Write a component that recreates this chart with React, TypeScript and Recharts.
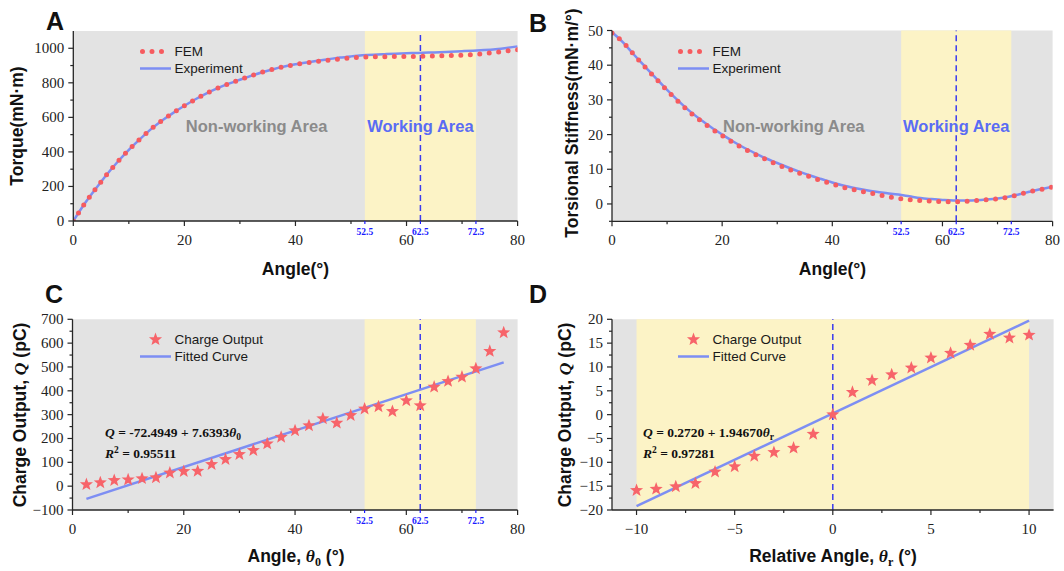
import React from 'react'
import {
  ComposedChart,
  Line,
  Scatter,
  XAxis,
  YAxis,
  ReferenceArea,
  ReferenceLine,
  Legend,
} from 'recharts'

const SERIF = '"Liberation Serif", "Times New Roman", serif'
const SANS = '"Liberation Sans", Arial, sans-serif'

const AX = '#262626'
const GRAY_BG = '#e3e3e3'
const YELLOW_BG = '#fcf3c6'
const RED = '#f65b5f'
const STAR_RED = '#f7646a'
const LINE_BLUE = '#7d8ef3'
const DASH_BLUE = '#3b3bef'
const TICK_BLUE = '#1a1aff'
const AREA_BLUE = '#5a6cf4'
const AREA_GRAY = '#8b8b8b'

// ---- data ----
const anglesAB = [
  0, 2, 4, 6, 8, 10, 12, 14, 16, 18, 20, 22, 24, 26, 28, 30, 32, 34, 36, 38, 40,
  42, 44, 46, 48, 50, 52, 54, 56, 58, 60, 62, 64, 66, 68, 70, 72, 74, 76, 78, 80,
]
const torqueFem = [
  0, 98, 185, 268, 343, 412, 474, 532, 582, 626, 667, 705, 739, 769, 795, 818,
  840, 861, 879, 894, 906, 916, 924, 931, 938, 944, 948, 950, 951, 952, 952, 953,
  955, 957, 958, 960, 964, 970, 977, 984, 991,
]
const torqueExp = [
  0, 98, 185, 268, 343, 412, 474, 532, 582, 626, 667, 705, 739, 769, 795, 818,
  840, 861, 879, 894, 907, 918, 928, 937, 946, 953, 959, 963, 966, 969, 971, 973,
  975, 977, 980, 983, 986, 990, 995, 1002, 1011,
]
const stiffFem = [
  49.3, 46.6, 43.0, 39.5, 36.1, 32.7, 29.6, 26.6, 24.1, 21.8, 19.7, 17.7, 15.9,
  14.3, 12.8, 11.4, 10.1, 8.9, 7.8, 6.7, 5.8, 4.8, 4.1, 3.4, 2.8, 2.1, 1.6, 1.2,
  1.0, 0.8, 0.7, 0.6, 0.75, 0.95, 1.2, 1.5, 2.0, 2.8, 3.6, 4.2, 4.9,
]
const stiffExp = [
  49.5, 46.6, 43.0, 39.6, 36.2, 32.9, 29.8, 26.9, 24.4, 22.1, 20.0, 18.0, 16.2,
  14.6, 13.1, 11.8, 10.5, 9.3, 8.2, 7.2, 6.2, 5.3, 4.6, 4.0, 3.5, 3.1, 2.7, 2.2,
  1.7, 1.4, 1.15, 1.0, 1.0, 1.1, 1.3, 1.6, 2.1, 2.8, 3.6, 4.3, 5.0,
]

const anglesC = [
  2.5, 5, 7.5, 10, 12.5, 15, 17.5, 20, 22.5, 25, 27.5, 30, 32.5, 35, 37.5, 40,
  42.5, 45, 47.5, 50, 52.5, 55, 57.5, 60, 62.5, 65, 67.5, 70, 72.5, 75, 77.5,
]
const chargeC = [
  7, 15, 24, 27, 32, 36, 56, 62, 63, 91, 112, 133, 150, 178, 206, 233, 254, 283,
  265, 297, 324, 334, 314, 359, 338, 416, 440, 458, 493, 566, 644,
]
const fitCx = [2.5, 77.5]
const fitCy = [-53.5, 519.5]

const anglesD = [-10, -9, -8, -7, -6, -5, -4, -3, -2, -1, 0, 1, 2, 3, 4, 5, 6, 7, 8, 9, 10]
const chargeD = [
  -15.9, -15.6, -15.1, -14.4, -12.0, -10.9, -8.7, -7.9, -7.0, -4.1, 0, 4.7, 7.2,
  8.4, 9.8, 11.9, 12.9, 14.6, 16.9, 16.1, 16.7,
]
const fitDx = [-10, 10]
const fitDy = [-19.2, 19.7]

const ticks0to80 = [0, 10, 20, 30, 40, 50, 60, 70, 80]
const workTicks = [52.5, 62.5, 72.5]
const ticksTorque = [0, 100, 200, 300, 400, 500, 600, 700, 800, 900, 1000]
const ticksStiff = [-5, 0, 5, 10, 15, 20, 25, 30, 35, 40, 45, 50]
const ticksChargeC = [-100, -50, 0, 50, 100, 150, 200, 250, 300, 350, 400, 450, 500, 550, 600, 650, 700]
const ticksRelAngle = [-10, -7.5, -5, -2.5, 0, 2.5, 5, 7.5, 10]
const ticksChargeD = [-20, -17.5, -15, -12.5, -10, -7.5, -5, -2.5, 0, 2.5, 5, 7.5, 10, 12.5, 15, 17.5, 20]

const pts = (xs: number[], ys: number[]) => xs.map((x, i) => ({ x, y: ys[i] }))

// ---- tick renderers ----
const isMajor = (v: number, step: number) => Math.abs(v / step - Math.round(v / step)) < 1e-6
const fmt = (v: number) => (v < 0 ? '\u2212' + Math.abs(v) : String(v))
const tickFont = { fontFamily: SERIF, fontSize: 15 }

const bottomTick = (major: number, blue: number[]) => (p: any) => {
  const v = p.payload.value
  const { x, y } = p
  if (blue.includes(v)) {
    return (
      <g>
        <line x1={x} x2={x} y1={y} y2={y + 3} stroke={TICK_BLUE} strokeWidth={1.2} />
        <text x={x} y={y + 14} textAnchor="middle" fill={TICK_BLUE}
          style={{ fontFamily: SERIF, fontSize: 9.5, fontWeight: 'bold' }}>
          {v}
        </text>
      </g>
    )
  }
  const m = isMajor(v, major)
  return (
    <g>
      <line x1={x} x2={x} y1={y} y2={y + (m ? 5 : 3)} stroke={AX} strokeWidth={1.2} />
      {m && (
        <text x={x} y={y + 24} textAnchor="middle" fill="#222" style={tickFont}>
          {fmt(v)}
        </text>
      )}
    </g>
  )
}

const topTick = (major: number) => (p: any) => {
  const m = isMajor(p.payload.value, major)
  return <line x1={p.x} x2={p.x} y1={p.y} y2={p.y + (m ? 5 : 3)} stroke={AX} strokeWidth={1.2} />
}

const leftTick = (major: number) => (p: any) => {
  const v = p.payload.value
  const { x, y } = p
  const m = isMajor(v, major)
  return (
    <g>
      <line x1={x - (m ? 5 : 3)} x2={x} y1={y} y2={y} stroke={AX} strokeWidth={1.2} />
      {m && (
        <text x={x - 9} y={y + 5} textAnchor="end" fill="#222" style={tickFont}>
          {fmt(v)}
        </text>
      )}
    </g>
  )
}

const rightTick = (major: number) => (p: any) => {
  const m = isMajor(p.payload.value, major)
  return <line x1={p.x - (m ? 5 : 3)} x2={p.x} y1={p.y} y2={p.y} stroke={AX} strokeWidth={1.2} />
}

type Frame = {
  xDomain: [number, number]
  yDomain: [number, number]
  xTicks: number[]
  xMajor: number
  blue: number[]
  yTicks: number[]
  yMajor: number
  yWidth: number
  xHeight: number
}

const axisLine = { stroke: AX, strokeWidth: 1.3 }

function frameAxes(c: Frame) {
  const bottom = [...c.xTicks, ...c.blue].sort((a, b) => a - b)
  return [
    <XAxis key="xb" xAxisId={0} type="number" dataKey="x" domain={c.xDomain} ticks={bottom} interval={0}
      allowDataOverflow height={c.xHeight} tickSize={0} tickMargin={0} tickLine={false} axisLine={axisLine}
      tick={bottomTick(c.xMajor, c.blue)} />,
    <XAxis key="xt" xAxisId="top" orientation="top" type="number" dataKey="x" domain={c.xDomain} ticks={c.xTicks}
      interval={0} allowDataOverflow height={0} tickSize={0} tickMargin={0} tickLine={false} axisLine={axisLine}
      tick={topTick(c.xMajor)} />,
    <YAxis key="yl" yAxisId={0} type="number" domain={c.yDomain} ticks={c.yTicks} interval={0} allowDataOverflow
      width={c.yWidth} tickSize={0} tickMargin={0} tickLine={false} axisLine={axisLine} tick={leftTick(c.yMajor)} />,
    <YAxis key="yr" yAxisId="right" orientation="right" type="number" domain={c.yDomain} ticks={c.yTicks}
      interval={0} allowDataOverflow width={0} tickSize={0} tickMargin={0} tickLine={false} axisLine={axisLine}
      tick={rightTick(c.yMajor)} />,
  ]
}

// ---- legend ----
const Star = (p: any) => {
  const { cx, cy } = p
  const r1 = 6.9
  const r2 = 2.9
  const list: string[] = []
  for (let i = 0; i < 10; i++) {
    const r = i % 2 === 0 ? r1 : r2
    const a = -Math.PI / 2 + (i * Math.PI) / 5
    list.push(`${cx + r * Math.cos(a)},${cy + r * Math.sin(a)}`)
  }
  return <polygon points={list.join(' ')} fill={STAR_RED} />
}

type Item = { label: string; kind: 'dots' | 'line' | 'star' }

const legendBox = (items: Item[]) => () => (
  <div style={{ fontFamily: SANS, fontSize: 13.5, color: '#1a1a1a' }}>
    {items.map((it) => (
      <div key={it.label} style={{ display: 'flex', alignItems: 'center', height: 17 }}>
        <svg width={31} height={17} style={{ marginRight: 4, overflow: 'visible' }}>
          {it.kind === 'dots' && (
            <line x1={2.5} x2={31} y1={8.5} y2={8.5} stroke={RED} strokeWidth={5} strokeDasharray="0 9.5" strokeLinecap="round" />
          )}
          {it.kind === 'line' && <line x1={0} x2={31} y1={8.5} y2={8.5} stroke={LINE_BLUE} strokeWidth={2.5} />}
          {it.kind === 'star' && <Star cx={15.5} cy={8.5} />}
        </svg>
        <span style={{ whiteSpace: 'nowrap' }}>{it.label}</span>
      </div>
    ))}
  </div>
)

const femItems: Item[] = [
  { label: 'FEM', kind: 'dots' },
  { label: 'Experiment', kind: 'line' },
]
const chargeItems: Item[] = [
  { label: 'Charge Output', kind: 'star' },
  { label: 'Fitted Curve', kind: 'line' },
]

const workLabel = { value: 'Working Area', position: 'center' as const, fill: AREA_BLUE, fontSize: 16.5, fontWeight: 'bold', fontFamily: SANS }
const nonWorkLabel = { value: 'Non-working Area', position: 'center' as const, fill: AREA_GRAY, fontSize: 16.5, fontWeight: 'bold', fontFamily: SANS }

const frameA: Frame = { xDomain: [0, 80], yDomain: [0, 1100], xTicks: ticks0to80, xMajor: 20, blue: workTicks, yTicks: ticksTorque, yMajor: 200, yWidth: 73.3, xHeight: 59 }
const frameB: Frame = { xDomain: [0, 80], yDomain: [-5, 50], xTicks: ticks0to80, xMajor: 20, blue: workTicks, yTicks: ticksStiff, yMajor: 10, yWidth: 82, xHeight: 58.7 }
const frameC: Frame = { xDomain: [0, 80], yDomain: [-100, 700], xTicks: ticks0to80, xMajor: 20, blue: workTicks, yTicks: ticksChargeC, yMajor: 100, yWidth: 72.5, xHeight: 61 }
const frameD: Frame = { xDomain: [-11.25, 11.25], yDomain: [-20, 20], xTicks: ticksRelAngle, xMajor: 5, blue: [], yTicks: ticksChargeD, yMajor: 5, yWidth: 82, xHeight: 61 }

function Backdrop(f: Frame, work: [number, number], withLabels: boolean) {
  return [
    <ReferenceArea key="g" x1={f.xDomain[0]} x2={f.xDomain[1]} y1={f.yDomain[0]} y2={f.yDomain[1]} fill={GRAY_BG} fillOpacity={1} stroke="none" />,
    <ReferenceArea key="w" x1={work[0]} x2={work[1]} y1={f.yDomain[0]} y2={f.yDomain[1]} fill={YELLOW_BG} fillOpacity={1} stroke="none"
      label={withLabels ? workLabel : undefined} />,
    withLabels ? (
      <ReferenceArea key="n" x1={13.5} x2={52.5} y1={f.yDomain[0]} y2={f.yDomain[1]} fill="none" fillOpacity={0} stroke="none" label={nonWorkLabel} />
    ) : null,
    <ReferenceLine key="d" x={(work[0] + work[1]) / 2} stroke={DASH_BLUE} strokeDasharray="6 4" strokeWidth={1.5} />,
  ]
}

export default function App() {
  return (
    <div style={{ position: 'absolute', left: 0, top: 0, width: 1064, height: 571, background: '#fff', fontFamily: SANS }}>
      {/* A: torque */}
      <div style={{ position: 'absolute', left: 0, top: 0 }}>
        <ComposedChart width={530} height={280} margin={{ top: 31, right: 12.4, bottom: 0, left: 0 }}>
          {frameAxes(frameA)}
          {Backdrop(frameA, [52.5, 72.5], true)}
          <Line data={pts(anglesAB, torqueExp)} dataKey="y" type="monotone" stroke={LINE_BLUE} strokeWidth={2.5} dot={false} isAnimationActive={false} />
          <Line data={pts(anglesAB, torqueFem)} dataKey="y" type="monotone" stroke={RED} strokeWidth={5} strokeDasharray="0 9.5"
            strokeLinecap="round" dot={false} isAnimationActive={false} />
          <Legend verticalAlign="middle" align="center" layout="horizontal" content={legendBox(femItems)}
            wrapperStyle={{ left: 139.5, top: 42.5, width: 200 }} />
        </ComposedChart>
      </div>

      {/* B: stiffness */}
      <div style={{ position: 'absolute', left: 530, top: 0 }}>
        <ComposedChart width={534} height={280} margin={{ top: 30.5, right: 11.4, bottom: 0, left: 0 }}>
          {frameAxes(frameB)}
          {Backdrop(frameB, [52.5, 72.5], true)}
          <Line data={pts(anglesAB, stiffExp)} dataKey="y" type="monotone" stroke={LINE_BLUE} strokeWidth={2.5} dot={false} isAnimationActive={false} />
          <Line data={pts(anglesAB, stiffFem)} dataKey="y" type="monotone" stroke={RED} strokeWidth={5} strokeDasharray="0 9.5"
            strokeLinecap="round" dot={false} isAnimationActive={false} />
          <Legend verticalAlign="middle" align="center" layout="horizontal" content={legendBox(femItems)}
            wrapperStyle={{ left: 147.6, top: 42.5, width: 200 }} />
        </ComposedChart>
      </div>

      {/* C: charge vs angle */}
      <div style={{ position: 'absolute', left: 0, top: 280 }}>
        <ComposedChart width={530} height={291} margin={{ top: 39.3, right: 12.4, bottom: 0, left: 0 }}>
          {frameAxes(frameC)}
          {Backdrop(frameC, [52.5, 72.5], false)}
          <Line data={pts(fitCx, fitCy)} dataKey="y" type="linear" stroke={LINE_BLUE} strokeWidth={2.5} dot={false} isAnimationActive={false} />
          <Scatter data={pts(anglesC, chargeC)} dataKey="y" shape={Star} isAnimationActive={false} />
          <Legend verticalAlign="middle" align="center" layout="horizontal" content={legendBox(chargeItems)}
            wrapperStyle={{ left: 139.5, top: 50.5, width: 200 }} />
        </ComposedChart>
      </div>

      {/* D: charge vs relative angle */}
      <div style={{ position: 'absolute', left: 530, top: 280 }}>
        <ComposedChart width={534} height={291} margin={{ top: 39.3, right: 10.4, bottom: 0, left: 0 }}>
          {frameAxes(frameD)}
          {Backdrop(frameD, [-10, 10], false)}
          <Line data={pts(fitDx, fitDy)} dataKey="y" type="linear" stroke={LINE_BLUE} strokeWidth={2.5} dot={false} isAnimationActive={false} />
          <Scatter data={pts(anglesD, chargeD)} dataKey="y" shape={Star} isAnimationActive={false} />
          <Legend verticalAlign="middle" align="center" layout="horizontal" content={legendBox(chargeItems)}
            wrapperStyle={{ left: 147.6, top: 50.5, width: 200 }} />
        </ComposedChart>
      </div>

      {/* panel letters, axis titles, fit equations */}
      <svg width={1064} height={571} style={{ position: 'absolute', left: 0, top: 0, pointerEvents: 'none' }}>
        <g fontFamily={SANS} fontWeight="bold" fontSize={25} fill="#111">
          <text x={46} y={30}>A</text>
          <text x={529} y={32}>B</text>
          <text x={45} y={303}>C</text>
          <text x={529} y={303}>D</text>
        </g>
        <g fontFamily={SANS} fontWeight="bold" fontSize={17.5} fill="#111" textAnchor="middle">
          <text transform="translate(17,126) rotate(-90)" dominantBaseline="central">Torque(mN·m)</text>
          <text transform="translate(572,123) rotate(-90)" dominantBaseline="central">Torsional Stiffness(mN·m/°)</text>
          <text transform="translate(19.5,415) rotate(-90)" dominantBaseline="central">
            Charge Output, <tspan fontFamily={SERIF} fontStyle="italic">Q</tspan> (pC)
          </text>
          <text transform="translate(564.5,415) rotate(-90)" dominantBaseline="central">
            Charge Output, <tspan fontFamily={SERIF} fontStyle="italic">Q</tspan> (pC)
          </text>
          <text x={295.5} y={274.5}>Angle(°)</text>
          <text x={832.5} y={274.5}>Angle(°)</text>
          <text x={296} y={562}>
            Angle, <tspan fontFamily={SERIF} fontStyle="italic">θ</tspan>
            <tspan fontFamily={SERIF} fontSize={12} dy={4}>0</tspan>
            <tspan dy={-4}> (°)</tspan>
          </text>
          <text x={833} y={562}>
            Relative Angle, <tspan fontFamily={SERIF} fontStyle="italic">θ</tspan>
            <tspan fontFamily={SERIF} fontSize={12} dy={4}>r</tspan>
            <tspan dy={-4}> (°)</tspan>
          </text>
        </g>
        <g fontFamily={SERIF} fontWeight="bold" fontSize={13.5} fill="#111">
          <text x={105} y={437}>
            <tspan fontStyle="italic">Q</tspan> = -72.4949 + 7.6393<tspan fontStyle="italic">θ</tspan>
            <tspan fontSize={9.5} dy={3}>0</tspan>
          </text>
          <text x={105} y={458}>
            <tspan fontStyle="italic">R</tspan>
            <tspan fontSize={9.5} dy={-5}>2</tspan>
            <tspan dy={5}> = 0.95511</tspan>
          </text>
          <text x={643} y={437}>
            <tspan fontStyle="italic">Q</tspan> = 0.2720 + 1.94670<tspan fontStyle="italic">θ</tspan>
            <tspan fontSize={9.5} dy={3}>r</tspan>
          </text>
          <text x={643} y={458}>
            <tspan fontStyle="italic">R</tspan>
            <tspan fontSize={9.5} dy={-5}>2</tspan>
            <tspan dy={5}> = 0.97281</tspan>
          </text>
        </g>
      </svg>
    </div>
  )
}
